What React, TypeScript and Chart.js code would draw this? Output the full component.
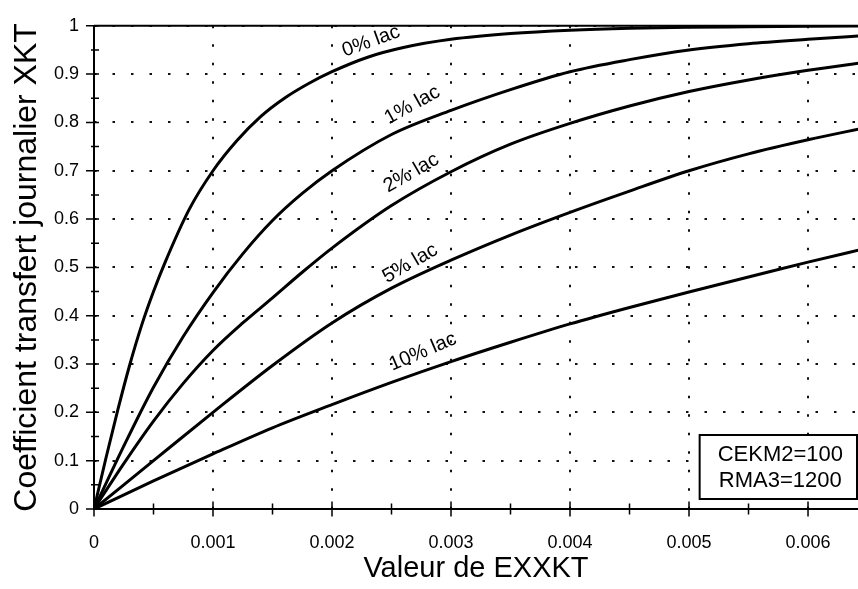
import React, { useEffect, useRef } from "react";
import { Chart, registerables } from "chart.js";

Chart.register(...registerables);

const FONT = "'Liberation Sans', Arial, Helvetica, sans-serif";

// ---- data ----
const lac0X = [0, 0.0001, 0.0002, 0.0003, 0.0004, 0.0005, 0.0006, 0.0008, 0.001, 0.0012, 0.0014, 0.0016, 0.0018, 0.002, 0.0023, 0.0026, 0.003, 0.0035, 0.004, 0.0045, 0.005, 0.0055, 0.006, 0.0065];
const lac0Y = [0, 0.105, 0.205, 0.298, 0.38, 0.45, 0.512, 0.62, 0.7, 0.762, 0.812, 0.85, 0.88, 0.905, 0.935, 0.955, 0.972, 0.984, 0.991, 0.995, 0.997, 0.998, 0.999, 1.0];

const lac1X = [0, 0.00025, 0.0005, 0.00075, 0.001, 0.00125, 0.0015, 0.00175, 0.002, 0.0025, 0.003, 0.0035, 0.004, 0.0045, 0.005, 0.0055, 0.006, 0.0065];
const lac1Y = [0, 0.13, 0.252, 0.357, 0.448, 0.528, 0.597, 0.653, 0.7, 0.775, 0.825, 0.868, 0.905, 0.93, 0.95, 0.963, 0.972, 0.98];

const lac2X = [0, 0.00025, 0.0005, 0.00075, 0.001, 0.00125, 0.0015, 0.00175, 0.002, 0.0025, 0.003, 0.0035, 0.004, 0.0045, 0.005, 0.0055, 0.006, 0.0065];
const lac2Y = [0, 0.094, 0.182, 0.26, 0.328, 0.385, 0.437, 0.49, 0.54, 0.628, 0.698, 0.755, 0.798, 0.834, 0.864, 0.888, 0.908, 0.925];

const lac5X = [0, 0.0005, 0.001, 0.0015, 0.002, 0.0025, 0.003, 0.0035, 0.004, 0.0045, 0.005, 0.0055, 0.006, 0.0065];
const lac5Y = [0, 0.1, 0.2, 0.297, 0.385, 0.457, 0.515, 0.567, 0.614, 0.658, 0.7, 0.735, 0.764, 0.79];

const lac10X = [0, 0.0005, 0.001, 0.0015, 0.002, 0.0025, 0.003, 0.0035, 0.004, 0.0045, 0.005, 0.0055, 0.006, 0.0065];
const lac10Y = [0, 0.058, 0.114, 0.168, 0.216, 0.262, 0.305, 0.345, 0.383, 0.417, 0.449, 0.48, 0.511, 0.54];

const seriesNames = ["0% lac", "1% lac", "2% lac", "5% lac", "10% lac"];
const seriesX = [lac0X, lac1X, lac2X, lac5X, lac10X];
const seriesY = [lac0Y, lac1Y, lac2Y, lac5Y, lac10Y];
// curve-label placement: x value on the curve, tilt, gap above the curve
const labelAtX = [0.00237, 0.002755, 0.002744, 0.002718, 0.002824];
const labelTiltDeg = [-20, -29, -30, -30, -23];
const labelGapPx = [9, 14, 13, 9, 13];

const xTickLabels = ["0", "0.001", "0.002", "0.003", "0.004", "0.005", "0.006"];
const yTickLabels = ["0", "0.1", "0.2", "0.3", "0.4", "0.5", "0.6", "0.7", "0.8", "0.9", "1"];
const xTitle = "Valeur de EXXKT";
const yTitle = "Coefficient transfert journalier XKT";
const noteLines = ["CEKM2=100", "RMA3=1200"];

const X_MIN = 0;
const X_MAX = 0.00642;
const Y_MIN = 0;
const Y_MAX = 1;

function interp(xs: number[], ys: number[], x: number): number {
  for (let i = 1; i < xs.length; i++) {
    if (x <= xs[i]) {
      const t = (x - xs[i - 1]) / (xs[i] - xs[i - 1]);
      return ys[i - 1] + t * (ys[i] - ys[i - 1]);
    }
  }
  return ys[ys.length - 1];
}

const decorPlugin = {
  id: "decor",
  afterDraw(chart: any) {
    const { ctx, chartArea: ca } = chart;
    const xs = chart.scales.x;
    const ys = chart.scales.y;
    ctx.save();
    ctx.strokeStyle = "#000";
    ctx.fillStyle = "#000";
    ctx.lineCap = "butt";

    // axes and top frame line
    ctx.lineWidth = 2;
    ctx.beginPath();
    ctx.moveTo(ca.left, ca.top);
    ctx.lineTo(ca.left, ca.bottom);
    ctx.lineTo(ca.right, ca.bottom);
    ctx.moveTo(ca.left, ca.top);
    ctx.lineTo(ca.right, ca.top);
    ctx.stroke();

    // tick marks
    ctx.lineWidth = 1.5;
    ctx.beginPath();
    for (let i = 0; i * 0.0005 <= X_MAX + 1e-12; i++) {
      const px = xs.getPixelForValue(i * 0.0005);
      const len = i % 2 === 0 ? 7.5 : 5.5;
      ctx.moveTo(px, ca.bottom - len);
      ctx.lineTo(px, ca.bottom + len);
    }
    for (let i = 0; i <= 20; i++) {
      const py = ys.getPixelForValue(i * 0.05);
      const l = i % 2 === 0 ? 8 : 3;
      ctx.moveTo(ca.left - l, py);
      ctx.lineTo(ca.left + 5, py);
    }
    ctx.stroke();

    // curve labels
    ctx.font = `20px ${FONT}`;
    ctx.textAlign = "center";
    ctx.textBaseline = "alphabetic";
    for (let s = 0; s < seriesNames.length; s++) {
      const xv = labelAtX[s];
      const cx = xs.getPixelForValue(xv);
      const cy = ys.getPixelForValue(interp(seriesX[s], seriesY[s], xv));
      ctx.save();
      ctx.translate(cx, cy);
      ctx.rotate((labelTiltDeg[s] * Math.PI) / 180);
      ctx.fillText(seriesNames[s], 0, -labelGapPx[s]);
      ctx.restore();
    }

    // parameter box
    ctx.font = `22px ${FONT}`;
    let w = 0;
    for (const t of noteLines) w = Math.max(w, ctx.measureText(t).width);
    const lineH = 26;
    const boxW = w + 32;
    const boxH = lineH * noteLines.length + 12;
    const bx1 = ca.right - 1;
    const bx0 = bx1 - boxW;
    const by1 = ca.bottom - 10;
    const by0 = by1 - boxH;
    ctx.fillStyle = "#fff";
    ctx.fillRect(bx0, by0, boxW, boxH);
    ctx.lineWidth = 2;
    ctx.strokeRect(bx0, by0, boxW, boxH);
    ctx.fillStyle = "#000";
    ctx.textAlign = "center";
    ctx.textBaseline = "middle";
    noteLines.forEach((t, i) => {
      ctx.fillText(t, (bx0 + bx1) / 2 + 2, by0 + 6 + lineH * (i + 0.5) + 1);
    });
    ctx.restore();
  },
};

export default function App() {
  const ref = useRef<HTMLCanvasElement>(null);
  useEffect(() => {
    document.body.style.margin = "0";
    const canvas = ref.current;
    if (!canvas) return;
    const datasets = seriesNames.map((name, s) => ({
      label: name,
      data: seriesX[s].map((x, i) => ({ x, y: seriesY[s][i] })),
      borderColor: "#000",
      borderWidth: 3,
      pointRadius: 0,
      fill: false,
      cubicInterpolationMode: "monotone" as const,
    }));
    const chart = new Chart(canvas, {
      type: "line",
      data: { datasets },
      options: {
        animation: false,
        responsive: false,
        layout: { padding: { top: 18, left: 0, right: 0, bottom: 0 } },
        plugins: { legend: { display: false }, tooltip: { enabled: false } },
        scales: {
          x: {
            type: "linear",
            min: X_MIN,
            max: X_MAX,
            afterFit: (s: any) => {
              s.height = 80;
            },
            grid: { color: "#111", lineWidth: 2, drawTicks: false },
            border: { display: false, dash: [2.5, 16] },
            ticks: {
              stepSize: 0.001,
              includeBounds: false,
              autoSkip: false,
              maxRotation: 0,
              padding: 23,
              color: "#000",
              font: { family: FONT, size: 18 },
              callback: (_v: any, i: number) => xTickLabels[i] ?? "",
            },
            title: {
              display: true,
              text: xTitle,
              color: "#000",
              font: { family: FONT, size: 29 },
              padding: { top: 0, bottom: 3 },
            },
          },
          y: {
            type: "linear",
            min: Y_MIN,
            max: Y_MAX,
            afterFit: (s: any) => {
              s.width = 94;
            },
            grid: { color: "#111", lineWidth: 2, drawTicks: false },
            border: { display: false, dash: [2.5, 16] },
            ticks: {
              stepSize: 0.1,
              autoSkip: false,
              padding: 15,
              color: "#000",
              font: { family: FONT, size: 18 },
              callback: (_v: any, i: number) => yTickLabels[i] ?? "",
            },
            title: {
              display: true,
              text: yTitle,
              color: "#000",
              font: { family: FONT, size: 32 },
              padding: { top: 8, bottom: 0 },
            },
          },
        },
      },
      plugins: [decorPlugin],
    });
    return () => chart.destroy();
  }, []);
  return (
    <div style={{ width: 858, height: 589 }}>
      <canvas ref={ref} width={858} height={589} style={{ display: "block" }} />
    </div>
  );
}
